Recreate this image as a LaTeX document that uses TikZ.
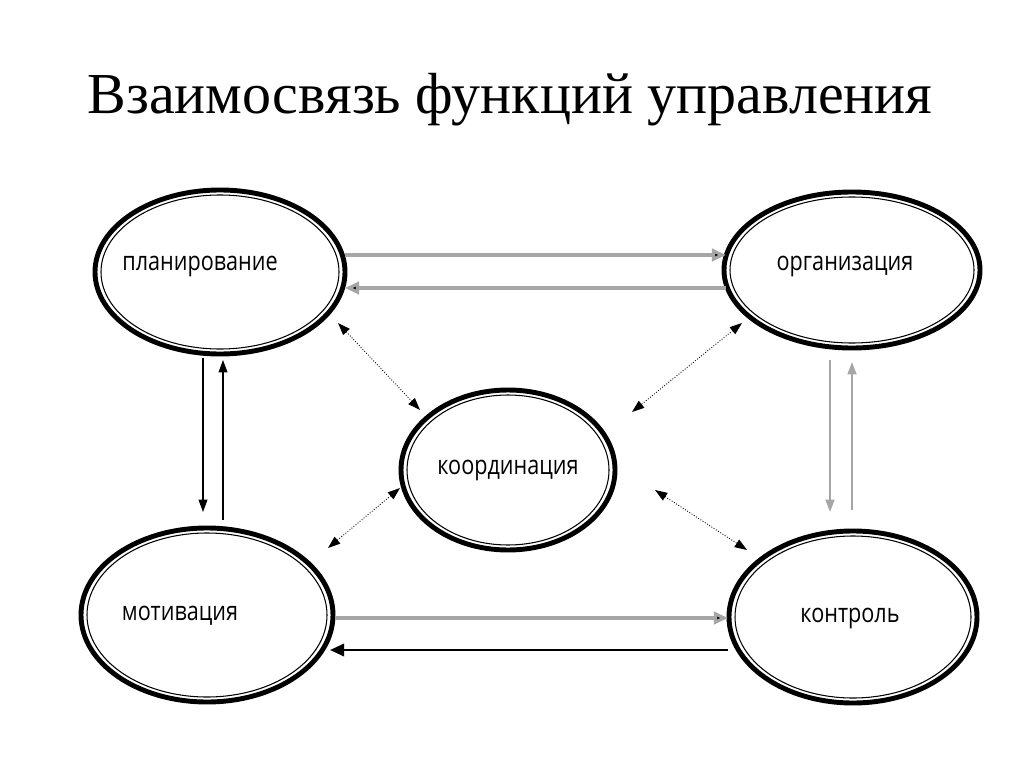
\documentclass[tikz,border=0pt]{standalone}
\usepackage{fontspec}
\setmainfont{Liberation Serif}
\newfontfamily\lab{Open Sans}
\usetikzlibrary{shapes.geometric,arrows.meta}
\begin{document}
\begin{tikzpicture}[x=0.02cm,y=-0.02cm,
  fn/.style={ellipse,draw,line width=2.8pt,inner sep=0pt},
  tx/.style={font=\lab\fontsize{15}{17}\selectfont,xscale=0.82},
  inring/.style={draw,line width=0.6pt},
  hline/.style={draw=gray!70,line width=1.8pt,-{Triangle[length=8pt,width=7pt,fill=black]}},
  bline/.style={draw,line width=1.4pt,-{Triangle[length=8pt,width=7pt]}},
  vline/.style={draw,line width=0.6pt,-{Triangle[length=7pt,width=5pt]}},
  dline/.style={draw,line width=0.5pt,densely dotted,{Triangle[length=7pt,width=5pt]}-{Triangle[length=7pt,width=5pt]}}]
\useasboundingbox (0,0) rectangle (1024,767);
\node[font=\fontsize{33}{38}\selectfont] (t) at (510,100) {Взаимосвязь функций управления};
\foreach \n/\x/\y/\rx/\ry in {p/220/272/125/82,o/852/270/128/78,k/508/470/107/80,m/207/615/126/87,c/853/617/124/86}{
  \node[fn,minimum width=2*\rx*0.02cm,minimum height=2*\ry*0.02cm] (\n) at (\x,\y) {};
  \draw[inring] (\x,\y) ellipse ({\rx-6} and {\ry-5});
}
\node[tx] (tp) at (200,266) {планирование};
\node[tx] (to) at (845,266) {организация};
\node[tx] (tk) at (508,470) {координация};
\node[tx] (tm) at (180,616) {мотивация};
\node[tx] (tc) at (850,618) {контроль};
\coordinate (a1) at (345,255); \coordinate (a2) at (726,255);
\coordinate (b1) at (726,288); \coordinate (b2) at (345,288);
\coordinate (c1) at (335,618); \coordinate (c2) at (728,618);
\coordinate (d1) at (728,650); \coordinate (d2) at (330,650);
\draw[hline] (a1) -- (a2);
\draw[hline] (b1) -- (b2);
\draw[hline] (c1) -- (c2);
\draw[bline] (d1) -- (d2);
\coordinate (e1) at (203,358); \coordinate (e2) at (203,512);
\coordinate (f1) at (223,520); \coordinate (f2) at (223,360);
\coordinate (g1) at (830,360); \coordinate (g2) at (830,512);
\coordinate (h1) at (852,510); \coordinate (h2) at (852,362);
\draw[vline] (e1) -- (e2);
\draw[vline] (f1) -- (f2);
\draw[vline,draw=gray!70,line width=1.2pt] (g1) -- (g2);
\draw[vline,draw=gray!70,line width=1.2pt] (h1) -- (h2);
\coordinate (i1) at (338,323); \coordinate (i2) at (420,410);
\coordinate (j1) at (742,323); \coordinate (j2) at (632,412);
\coordinate (k1) at (400,488); \coordinate (k2) at (328,548);
\coordinate (l1) at (655,490); \coordinate (l2) at (747,550);
\draw[dline] (i1) -- (i2);
\draw[dline] (j1) -- (j2);
\draw[dline] (k1) -- (k2);
\draw[dline] (l1) -- (l2);
\end{tikzpicture}
\end{document}
